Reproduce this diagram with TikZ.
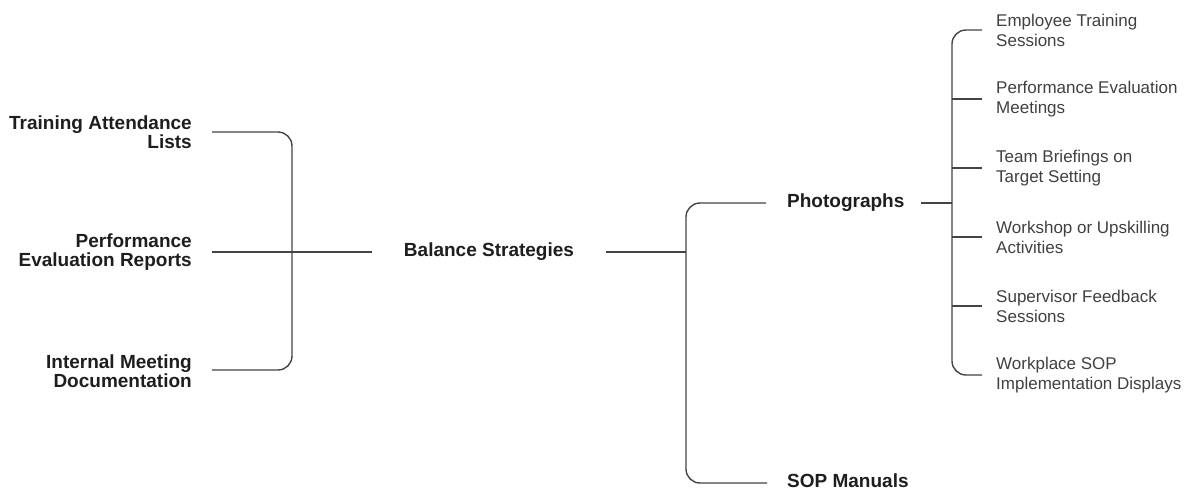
\documentclass[tikz,border=0pt]{standalone}
\usepackage{fontspec}
\setmainfont{Liberation Sans}
\definecolor{ink}{HTML}{1E1E1E}
\definecolor{wire}{HTML}{444444}
\begin{document}
\begin{tikzpicture}[x=1pt,y=-1pt,
  conn/.style={draw=wire,line width=1.4pt,rounded corners=14pt},
  boldlbl/.style={inner sep=0pt,text=ink,font=\fontsize{19}{19.5}\selectfont\bfseries,align=right},
  midlbl/.style={inner sep=0pt,text=ink,font=\fontsize{19}{19.5}\selectfont\bfseries},
  leaf/.style={inner sep=0pt,text=ink!85,font=\fontsize{17}{20}\selectfont,align=left,anchor=west}]
\useasboundingbox (0,0) rectangle (1192,490);
% left sources
\node[boldlbl,anchor=east] (tal) at (192,132) {Training Attendance\\Lists};
\node[boldlbl,anchor=east] (per) at (192,252) {Performance\\Evaluation Reports};
\node[boldlbl,anchor=east] (imd) at (192,371) {Internal Meeting\\Documentation};
% centre
\node[midlbl] (bal) at (489,252) {Balance Strategies};
% right branches
\node[midlbl,anchor=west] (pho) at (787,203) {Photographs};
\node[midlbl,anchor=west] (sop) at (787,481) {SOP Manuals};
% leaves
\node[leaf] (l1) at (996,30) {Employee Training\\Sessions};
\node[leaf] (l2) at (996,99) {Performance Evaluation\\Meetings};
\node[leaf] (l3) at (996,168) {Team Briefings on\\Target Setting};
\node[leaf] (l4) at (996,237) {Workshop or Upskilling\\Activities};
\node[leaf] (l5) at (996,306) {Supervisor Feedback\\Sessions};
\node[leaf] (l6) at (996,375) {Workplace SOP\\Implementation Displays};
% coordinates
\coordinate (a1) at (212,132);
\coordinate (a2) at (212,252);
\coordinate (a3) at (212,370);
\coordinate (jl) at (292,252);
\coordinate (bl) at (372,252);
\coordinate (br) at (606,252);
\coordinate (jr) at (686,252);
\coordinate (p1) at (766,203);
\coordinate (s1) at (767,483);
\coordinate (pr) at (921,203);
\coordinate (jp) at (952,203);
\coordinate (e1) at (982,30);
\coordinate (e2) at (982,99);
\coordinate (e3) at (982,168);
\coordinate (e4) at (982,237);
\coordinate (e5) at (982,306);
\coordinate (e6) at (982,375);
% left bracket
\draw[conn] (a1) -| (jl) |- (a3);
\draw[conn] (a2) -- (bl);
% right of centre
\draw[conn] (br) -- (jr);
\draw[conn] (p1) -| (jr) |- (s1);
% photographs bracket
\draw[conn] (pr) -- (jp);
\draw[conn] (e1) -| (jp) |- (e6);
\foreach \e in {e2,e3,e4,e5} \draw[conn] (\e) -- (jp |- \e);
\end{tikzpicture}
\end{document}
